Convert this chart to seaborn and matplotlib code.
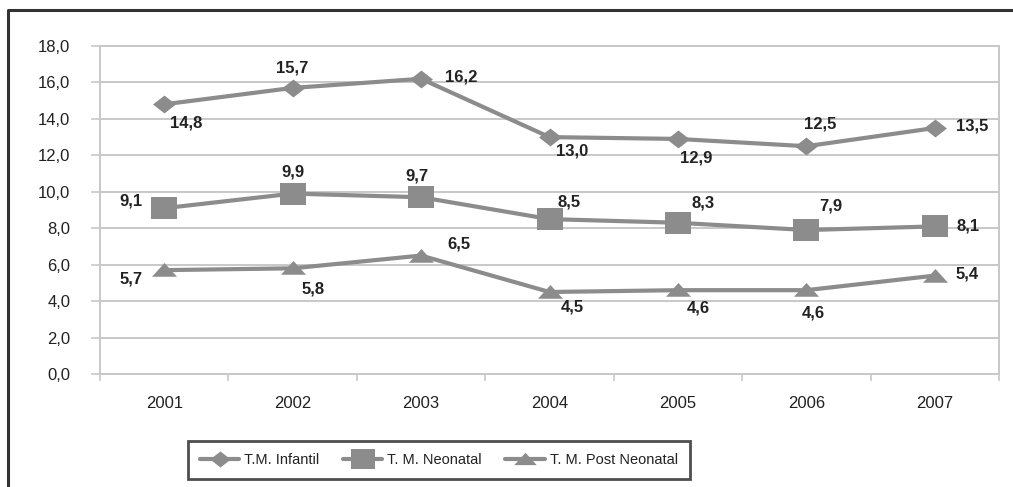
import numpy as np
import pandas as pd
import seaborn as sns
import matplotlib.pyplot as plt
from matplotlib.lines import Line2D

years = ['2001', '2002', '2003', '2004', '2005', '2006', '2007']
infantil = [14.8, 15.7, 16.2, 13.0, 12.9, 12.5, 13.5]
neonatal = [9.1, 9.9, 9.7, 8.5, 8.3, 7.9, 8.1]
post_neonatal = [5.7, 5.8, 6.5, 4.5, 4.6, 4.6, 5.4]
series_names = ['T.M. Infantil', 'T. M. Neonatal', 'T. M. Post Neonatal']

sns.set_theme(style='white')
plt.rcParams['font.family'] = ['Liberation Sans', 'DejaVu Sans']

grey = '#8c8c8c'
light = '#c8c8c8'
txt = '#222222'

# custom marker shapes (slightly flattened like the source)
diamond = [(-1.28, 0), (0, 1), (1.28, 0), (0, -1), (-1.28, 0)]
square = [(-1.15, -1), (1.15, -1), (1.15, 1), (-1.15, 1), (-1.15, -1)]
triangle = [(-1, -0.5), (1, -0.5), (0, 0.6), (-1, -0.5)]

# label offsets in pixels (dx, dy)
off_inf = [(22, -19), (0, 20), (40, 2), (23, -14), (18, -19), (14, 22), (37, 2)]
off_neo = [(-33, 7), (0, 22), (-4, 21), (20, 17), (25, 20), (24, 24), (33, 0)]
off_post = [(-33, -9), (20, -21), (38, 12), (23, -15), (20, -18), (7, -23), (32, 2)]

df = pd.DataFrame({'Ano': years, series_names[0]: infantil,
                   series_names[1]: neonatal, series_names[2]: post_neonatal})

fig = plt.figure(figsize=(10.13, 4.87), dpi=100)
ax = fig.add_axes([100 / 1013, 1 - 374 / 487, 899 / 1013, 328 / 487])

specs = [(series_names[0], diamond, 16.5, off_inf),
         (series_names[1], square, 19, off_neo),
         (series_names[2], triangle, 18, off_post)]

for name, mk, ms, offs in specs:
    sns.lineplot(data=df, x='Ano', y=name, ax=ax, color=grey, linewidth=3,
                 marker=mk, markersize=ms, markeredgewidth=0, label=name,
                 legend=False, zorder=3)
    for i, v in enumerate(df[name]):
        ax.annotate(f'{v:.1f}'.replace('.', ','), (i, v), xytext=offs[i],
                    textcoords='offset pixels', ha='center', va='center',
                    fontsize=12, fontweight='bold', color=txt, zorder=4)

ax.set_xlim(-0.5, 6.5)
ax.set_ylim(0, 18)
ax.set_yticks(np.arange(0, 19, 2))
ax.set_yticklabels([f'{v:.1f}'.replace('.', ',') for v in np.arange(0, 19, 2)])
ax.set_xticks(range(len(years)))
ax.set_xticks(np.arange(-0.5, 7, 1), minor=True)
ax.set_xlabel('')
ax.set_ylabel('')
ax.grid(axis='y', color=light, linewidth=1.4)
ax.set_axisbelow(True)
for s in ax.spines.values():
    s.set_color(light)
    s.set_linewidth(1.4)
ax.tick_params(axis='y', which='major', left=True, length=6.5, width=1.2,
               color=light, labelsize=12, labelcolor=txt, pad=15)
ax.tick_params(axis='x', which='major', bottom=False, labelsize=12,
               labelcolor=txt, pad=10)
ax.tick_params(axis='x', which='minor', bottom=True, length=5, width=1.2,
               color=light)

handles = [Line2D([], [], color=grey, lw=3, marker=mk, markersize=ms * 0.9,
                  markeredgewidth=0) for _, mk, ms, _ in specs]
leg = fig.legend(handles, series_names, loc='center', ncol=3,
                 bbox_to_anchor=(439 / 1013, 1 - 460 / 487), frameon=True,
                 fancybox=False, fontsize=10.5, handlelength=2.7,
                 columnspacing=1.6, handletextpad=0.35, borderpad=0.85)
leg.get_frame().set_edgecolor('#222222')
leg.get_frame().set_linewidth(2)
for t in leg.get_texts():
    t.set_color(txt)

# outer frame of the picture
fig.add_artist(Line2D([8 / 1013, 8 / 1013, 1.0], [0, 1 - 10 / 487, 1 - 10 / 487],
                      transform=fig.transFigure, color='#333333', lw=2.2))

fig.savefig('out.png', dpi=100)
